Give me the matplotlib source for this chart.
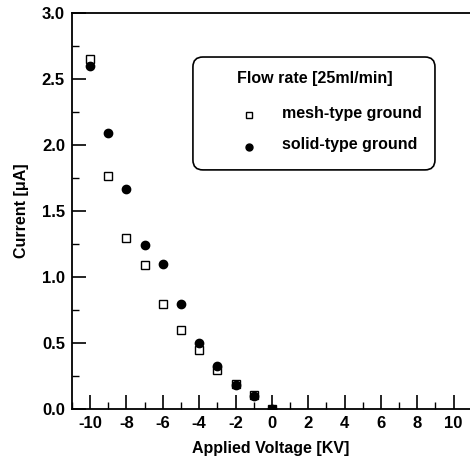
import numpy as np
import matplotlib.pyplot as plt
from matplotlib.ticker import MultipleLocator
from matplotlib.patches import FancyBboxPatch

plt.rcParams['font.family'] = ['Liberation Sans', 'DejaVu Sans']
plt.rcParams['axes.unicode_minus'] = False

# applied voltage [kV]
voltage = [-10, -9, -8, -7, -6, -5, -4, -3, -2, -1, 0]
# current [uA]
mesh_current = [2.65, 1.765, 1.30, 1.09, 0.80, 0.60, 0.45, 0.30, 0.19, 0.105, 0.0]
solid_current = [2.60, 2.09, 1.665, 1.24, 1.10, 0.80, 0.50, 0.33, 0.18, 0.10, 0.0]

xticks = [-10, -8, -6, -4, -2, 0, 2, 4, 6, 8, 10]
yticks = [0.0, 0.5, 1.0, 1.5, 2.0, 2.5, 3.0]

legend_title = 'Flow rate [25ml/min]'
series_labels = ['mesh-type ground', 'solid-type ground']

fig = plt.figure(figsize=(4.7, 4.66), dpi=100)
ax = fig.add_axes([0.153, 0.122, 0.847, 0.850])

ax.plot(voltage, mesh_current, linestyle='none', marker='s', markersize=5.5,
        markerfacecolor='white', markeredgecolor='black', markeredgewidth=1.0)
ax.plot(voltage, solid_current, linestyle='none', marker='o', markersize=6,
        markerfacecolor='black', markeredgecolor='black')

ax.set_xlim(-11, 10.9)
ax.set_ylim(0, 3.0)
ax.set_xticks(xticks)
ax.set_yticks(yticks)
ax.set_yticklabels([f'{v:.1f}' for v in yticks])
ax.xaxis.set_minor_locator(MultipleLocator(1))
ax.yaxis.set_minor_locator(MultipleLocator(0.25))

ax.tick_params(axis='both', which='major', direction='in', length=10, width=1.2,
               labelsize=12, pad=5)
ax.tick_params(axis='both', which='minor', direction='in', length=5, width=1.0)
ax.tick_params(top=False, right=False, which='both')
for lbl in ax.get_xticklabels() + ax.get_yticklabels():
    lbl.set_fontweight('bold')

ax.spines['right'].set_visible(False)
for s in ['left', 'bottom', 'top']:
    ax.spines[s].set_linewidth(1.3)

ax.set_xlabel('Applied Voltage [KV]', fontsize=11.5, fontweight='bold', labelpad=7)
ax.set_ylabel('Current [μA]', fontsize=11.5, fontweight='bold', labelpad=9)

# legend box drawn by hand in axes coordinates
box = FancyBboxPatch((0.304, 0.604), 0.608, 0.285, transform=ax.transAxes,
                     boxstyle='round,pad=0,rounding_size=0.025',
                     facecolor='white', edgecolor='black', linewidth=1.2)
ax.add_patch(box)
ax.text(0.61, 0.836, legend_title, transform=ax.transAxes,
        ha='center', va='center', fontsize=11.5, fontweight='bold')
ax.plot([0.445], [0.742], transform=ax.transAxes, marker='s', markersize=5,
        markerfacecolor='white', markeredgecolor='black', linestyle='none')
ax.plot([0.445], [0.662], transform=ax.transAxes, marker='o', markersize=5,
        markerfacecolor='black', markeredgecolor='black', linestyle='none')
ax.text(0.528, 0.747, series_labels[0], transform=ax.transAxes,
        ha='left', va='center', fontsize=11.5, fontweight='bold')
ax.text(0.528, 0.667, series_labels[1], transform=ax.transAxes,
        ha='left', va='center', fontsize=11.5, fontweight='bold')

fig.savefig('out.png', dpi=100)
